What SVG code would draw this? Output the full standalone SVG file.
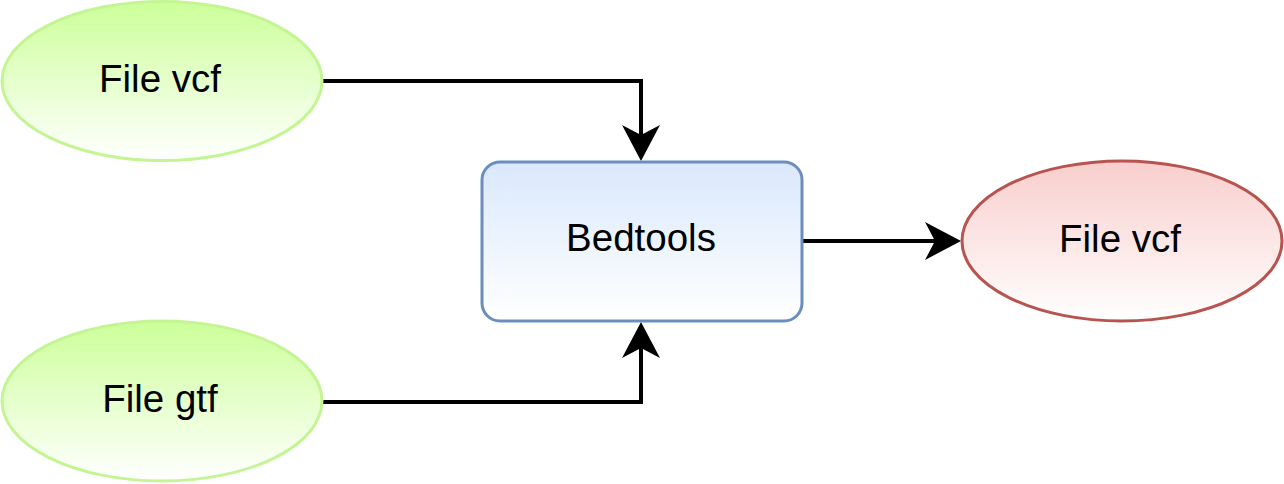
<svg xmlns="http://www.w3.org/2000/svg" width="1284" height="484" viewBox="0 0 1284 484">
<style>
.lbl{font-family:"Liberation Sans",Arial,sans-serif;font-size:38.5px;fill:#000;text-anchor:middle}
.edge{fill:none;stroke:#000;stroke-width:4}
</style>
<defs>
<linearGradient id="gGreen" x1="0" y1="0" x2="0" y2="1"><stop offset="0" stop-color="#ccff99"/><stop offset="1" stop-color="#ffffff"/></linearGradient>
<linearGradient id="gBlue" x1="0" y1="0" x2="0" y2="1"><stop offset="0" stop-color="#dae8fc"/><stop offset="1" stop-color="#ffffff"/></linearGradient>
<linearGradient id="gRed" x1="0" y1="0" x2="0" y2="1"><stop offset="0" stop-color="#f8cecc"/><stop offset="1" stop-color="#ffffff"/></linearGradient>
<marker id="arr" markerUnits="userSpaceOnUse" markerWidth="44" markerHeight="44" viewBox="-12 -22 44 44" refX="0" refY="0" orient="auto">
<path d="M26,0 L-10,-19 L0,0 L-10,19 Z" fill="#000"/>
</marker>
</defs>
<g id="connectors">
<path class="edge" d="M323,81 H641 V135" marker-end="url(#arr)"/>
<path class="edge" d="M323,402 H641 V348" marker-end="url(#arr)"/>
<path class="edge" d="M803,241 H935" marker-end="url(#arr)"/>
</g>
<g id="vcf-in">
<ellipse cx="162" cy="81" rx="160" ry="79.5" fill="url(#gGreen)" stroke="#c4f594" stroke-width="3"/>
<text class="lbl" x="160" y="92">File vcf</text>
</g>
<g id="gtf-in">
<ellipse cx="162" cy="401" rx="160" ry="80" fill="url(#gGreen)" stroke="#c4f594" stroke-width="3"/>
<text class="lbl" x="160" y="412">File gtf</text>
</g>
<g id="bedtools">
<rect x="482" y="162" width="320" height="159" rx="18" fill="url(#gBlue)" stroke="#6c8ebf" stroke-width="3"/>
<text class="lbl" x="641" y="251">Bedtools</text>
</g>
<g id="vcf-out">
<ellipse cx="1122" cy="241" rx="160" ry="80" fill="url(#gRed)" stroke="#b85450" stroke-width="3"/>
<text class="lbl" x="1120" y="252">File vcf</text>
</g>
</svg>
